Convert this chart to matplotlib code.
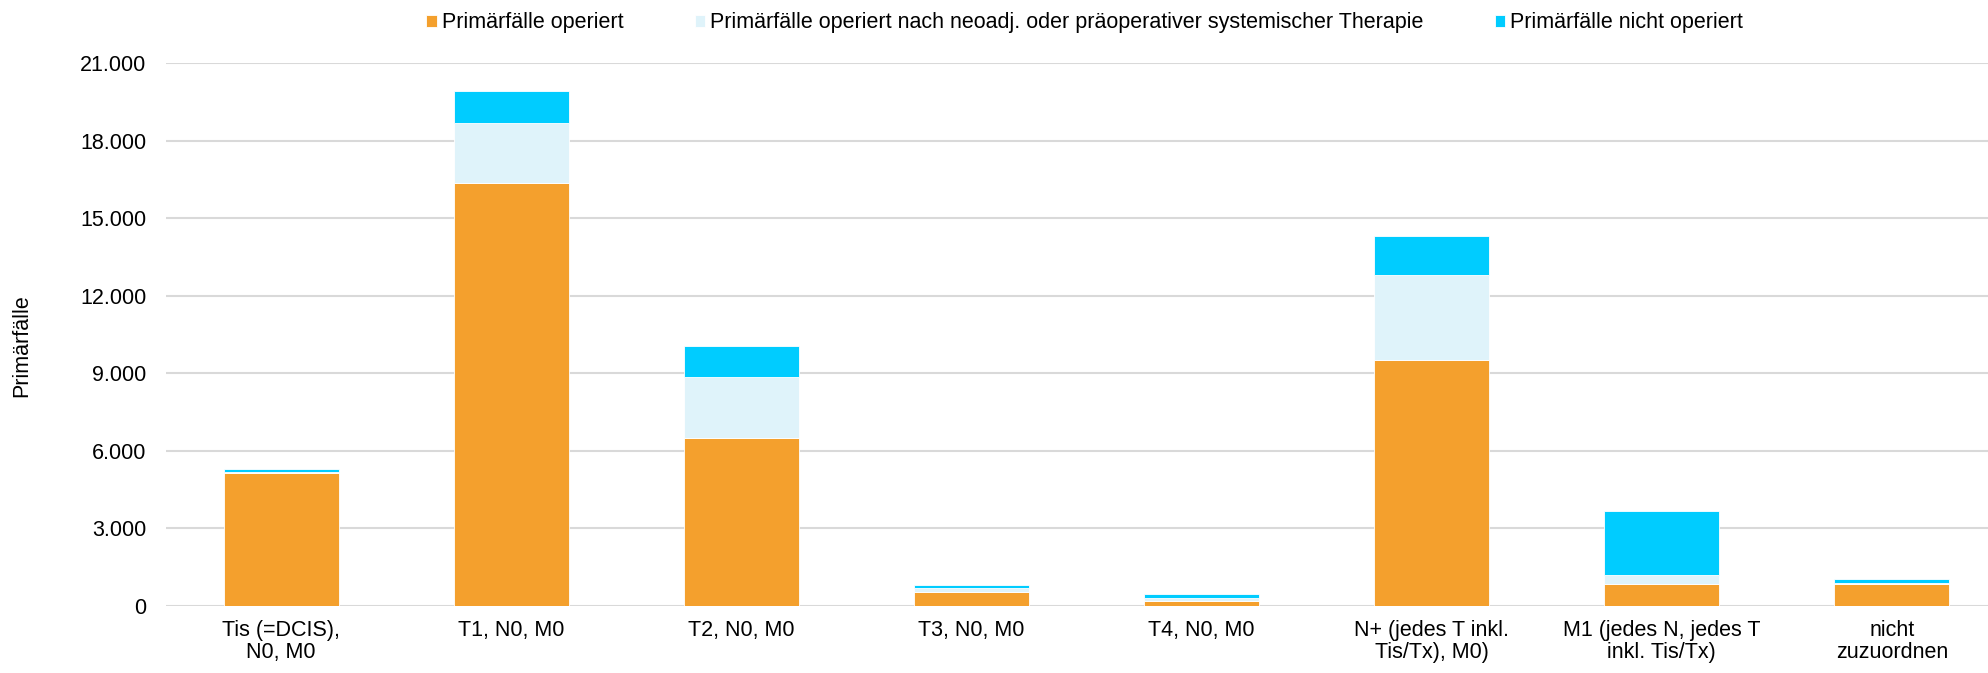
import matplotlib
matplotlib.use("Agg")
import matplotlib.pyplot as plt
from matplotlib.ticker import FuncFormatter, MultipleLocator
import numpy as np

plt.rcParams['font.family'] = ['Liberation Sans', 'DejaVu Sans']

# Kategorien und Werte (aus dem Bild geschaetzt)
categories = ["Tis (=DCIS),\nN0, M0", "T1, N0, M0", "T2, N0, M0", "T3, N0, M0",
              "T4, N0, M0", "N+ (jedes T inkl.\nTis/Tx), M0)",
              "M1 (jedes N, jedes T\ninkl. Tis/Tx)", "nicht\nzuzuordnen"]
operiert = [5150, 16360, 6490, 525, 195, 9520, 860, 860]
operiert_neoadj = [40, 2340, 2380, 185, 115, 3290, 340, 45]
nicht_operiert = [100, 1240, 1200, 115, 170, 1520, 2480, 140]
series_names = ["Primärfälle operiert",
                "Primärfälle operiert nach neoadj. oder präoperativer systemischer Therapie",
                "Primärfälle nicht operiert"]
colors = ["#F4A02D", "#DFF3FA", "#00CCFF"]

fs = 15.5
fig = plt.figure(figsize=(19.88, 6.73), dpi=100)
ax = fig.add_axes([166 / 1988, 67 / 673, (2007 - 166) / 1988, (606 - 63.4) / 673])

x = np.arange(len(categories))
bottom = np.zeros(len(categories))
for vals, name, c in zip([operiert, operiert_neoadj, nicht_operiert], series_names, colors):
    ax.bar(x, vals, 0.5, bottom=bottom, color=c, label=name,
           edgecolor="white", linewidth=0.6, zorder=3)
    bottom += np.array(vals)

ax.set_xlim(-0.5, len(categories) - 0.5)
ax.set_ylim(0, 21000)
ax.yaxis.set_major_locator(MultipleLocator(3000))
ax.yaxis.set_major_formatter(FuncFormatter(lambda v, p: f"{int(v):,}".replace(",", ".")))
ax.grid(axis="y", color="#D9D9D9", linewidth=1.5, zorder=0)
for s in ax.spines.values():
    s.set_visible(False)
ax.tick_params(axis="both", length=0, labelsize=fs, colors="#000000")
ax.tick_params(axis="y", pad=14)
ax.tick_params(axis="x", pad=10)
ax.set_xticks(x)
ax.set_xticklabels(categories, linespacing=1.1)

fig.text(22 / 1988, 1 - 346 / 673, "Primärfälle", rotation=90, fontsize=fs,
         ha="center", va="center")

fig.legend(loc="center", bbox_to_anchor=(0.5456, 0.966), ncol=3, frameon=False,
           fontsize=fs, handlelength=0.47, handleheight=0.5, handletextpad=0.25,
           columnspacing=3.3)

fig.savefig("out.png", dpi=100)
